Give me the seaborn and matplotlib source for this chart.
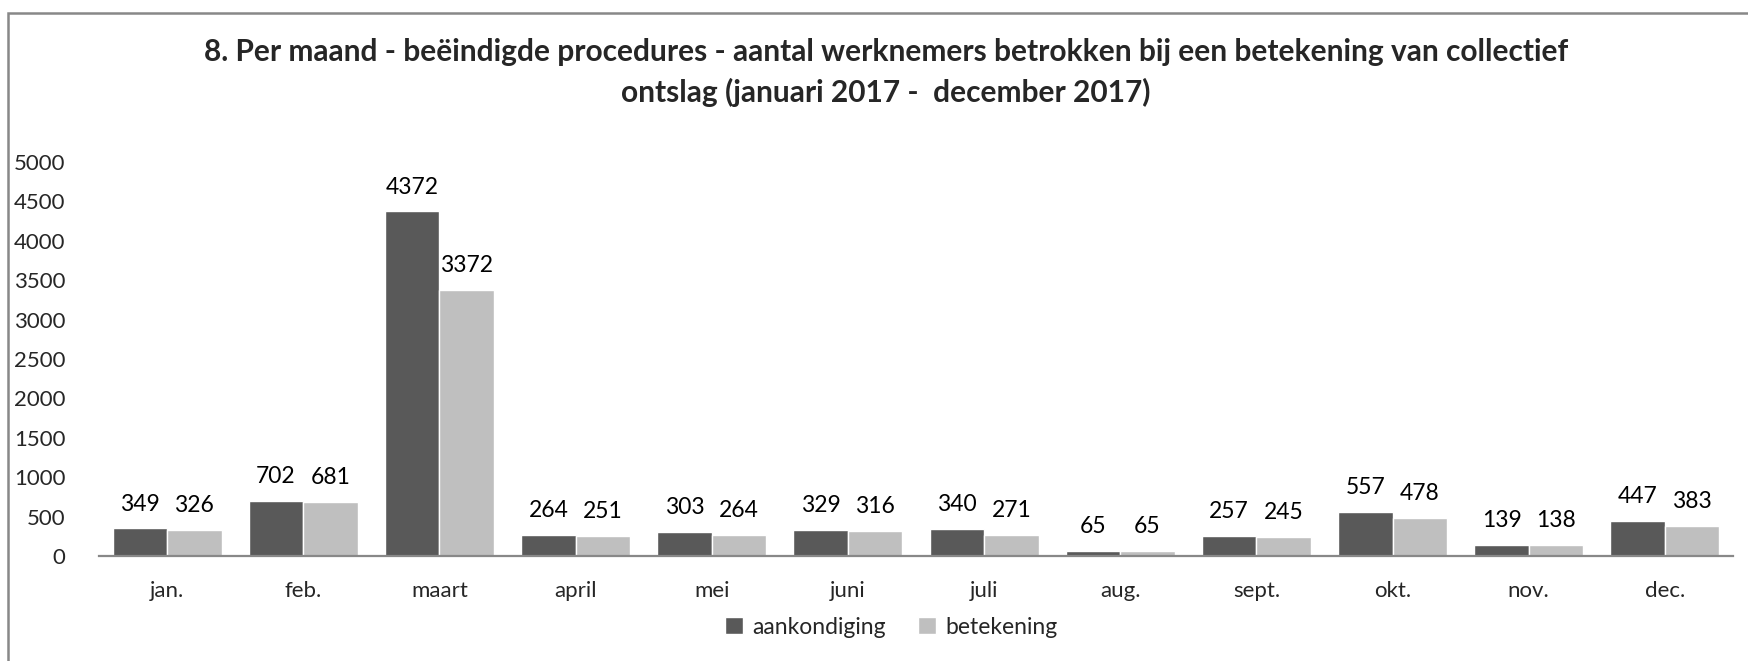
import matplotlib
matplotlib.use("Agg")
import matplotlib.pyplot as plt
import seaborn as sns
import pandas as pd
from matplotlib.patches import Rectangle

months = ["jan.", "feb.", "maart", "april", "mei", "juni", "juli", "aug.", "sept.", "okt.", "nov.", "dec."]
aankondiging = [349, 702, 4372, 264, 303, 329, 340, 65, 257, 557, 139, 447]
betekening = [326, 681, 3372, 251, 264, 316, 271, 65, 245, 478, 138, 383]
series_names = ["aankondiging", "betekening"]
colors = ["#595959", "#bfbfbf"]
yticks = [0, 500, 1000, 1500, 2000, 2500, 3000, 3500, 4000, 4500, 5000]

df = pd.DataFrame({
    "maand": months * 2,
    "waarde": aankondiging + betekening,
    "reeks": [series_names[0]] * len(months) + [series_names[1]] * len(months),
})

sns.set_theme(style="white")
plt.rcParams["font.family"] = ["Lato", "DejaVu Sans"]

W, H = 1749, 661
fig = plt.figure(figsize=(W / 100, H / 100), dpi=100)
ax = fig.add_axes([99 / W, 105 / H, (1733 - 99) / W, (499 - 105) / H])

sns.barplot(data=df, x="maand", y="waarde", hue="reeks", order=months,
            hue_order=series_names, palette=colors, width=0.8, gap=0,
            saturation=1, ax=ax, legend=True)

for cont in ax.containers:
    ax.bar_label(cont, fontsize=16.5, padding=10, color="#000000")

ax.set_xlim(-0.5, 11.5)
ax.set_ylim(0, 5000)
ax.set_yticks(yticks)
ax.set_yticklabels([str(v) for v in yticks])
ax.set_xlabel("")
ax.set_ylabel("")
ax.tick_params(axis="y", length=0, pad=24, labelsize=16)
ax.tick_params(axis="x", length=0, pad=18, labelsize=16)
for s in ["top", "right", "left"]:
    ax.spines[s].set_visible(False)
ax.spines["bottom"].set_color("#888888")
ax.spines["bottom"].set_linewidth(1.6)
ax.grid(False)

handles, labels = ax.get_legend_handles_labels()
ax.get_legend().remove()
fig.legend(handles, labels, loc="center", bbox_to_anchor=(891 / W, 34 / H),
           ncol=2, frameon=False, fontsize=16.5, handlelength=0.8, handleheight=0.8,
           handletextpad=0.4, columnspacing=1.4)

fig.text(886 / W, 1 - 52 / H, "8. Per maand - beëindigde procedures - aantal werknemers betrokken bij een betekening van collectief",
         ha="center", va="center", fontsize=21.5, fontweight="bold")
fig.text(886 / W, 1 - 92 / H, "ontslag (januari 2017 -  december 2017)",
         ha="center", va="center", fontsize=21.5, fontweight="bold")

fig.patches.append(Rectangle((8 / W, -0.1), 1.2, 1 - 13 / H + 0.1, transform=fig.transFigure,
                             fill=False, edgecolor="#888888", linewidth=1.8))

fig.savefig("out.png", dpi=100)
